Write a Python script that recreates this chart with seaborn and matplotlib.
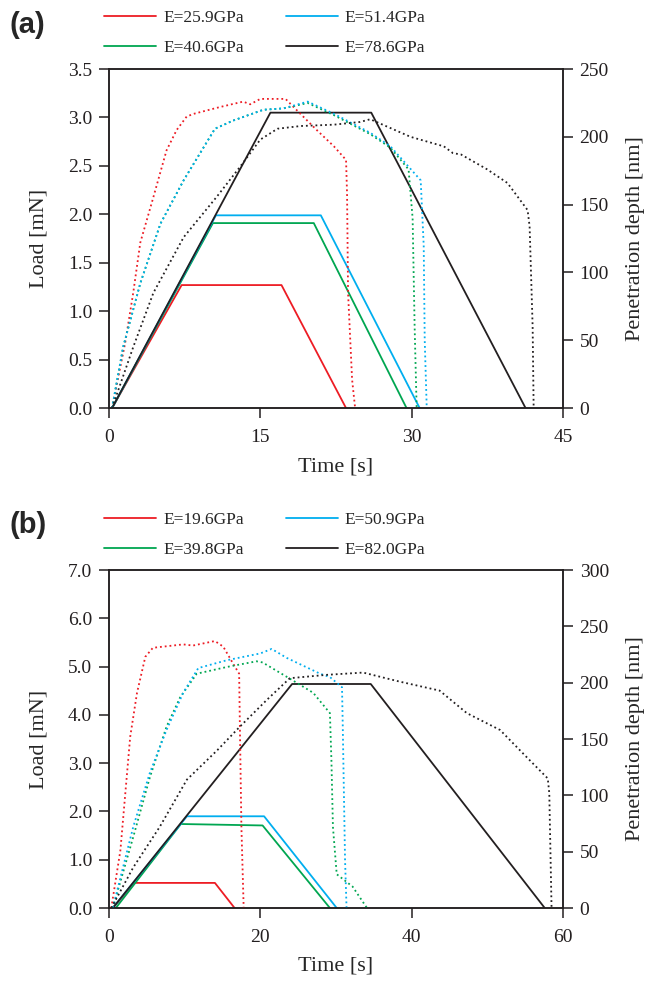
import seaborn as sns
import matplotlib.pyplot as plt
from matplotlib.lines import Line2D
from matplotlib.ticker import FormatStrFormatter

# colores de las series (rojo, verde, azul, negro)
colors = ['#ED1C24', '#00A651', '#00AEEF', '#231F20']

# ---------------- panel (a) ----------------
a_labels = ['E=25.9GPa', 'E=40.6GPa', 'E=51.4GPa', 'E=78.6GPa']
a_load_start = [0.3, 0.3, 0.3, 0.3]
a_ramp_end = [7.2, 10.3, 10.6, 16.0]
a_hold_end = [17.1, 20.3, 21.0, 26.0]
a_unload_end = [23.5, 29.5, 30.8, 41.3]
a_peak_load = [1.27, 1.91, 1.99, 3.05]
a_hold_load = [1.27, 1.91, 1.99, 3.05]

a_red_t = [0.3, 1.6, 2.4, 3.1, 4.3, 5.7, 6.7, 7.7, 8.4, 11.0, 13.3, 14.0, 15.0, 17.5, 18.3, 20.6, 22.3, 23.5, 23.6, 23.7, 24.1, 24.4]
a_red_d = [0, 48, 85, 122, 153, 190, 205, 215, 217, 222, 226, 224, 228, 228, 222, 205, 193, 183, 158, 85, 21, 0]
a_green_t = [0.3, 1.4, 3.1, 5.1, 7.4, 10.5, 12.3, 15.3, 17.3, 19.7, 22.3, 25.9, 27.9, 29.7, 30.1, 30.3, 30.5]
a_green_d = [0, 45, 92, 136, 168, 206, 212, 220, 221, 225, 216, 202, 192, 176, 140, 60, 0]
a_blue_t = [0.3, 1.4, 3.1, 5.1, 7.4, 10.5, 12.3, 15.3, 17.3, 19.7, 22.3, 25.9, 27.9, 30.9, 31.2, 31.3, 31.5]
a_blue_d = [0, 45, 92, 136, 168, 206, 212, 220, 221, 226, 217, 203, 193, 168, 120, 50, 0]
a_black_t = [0.3, 2.4, 4.4, 7.4, 10.7, 13.0, 15.0, 16.7, 19.0, 22.3, 24.9, 25.9, 29.9, 33.2, 34.1, 34.9, 37.5, 39.5, 41.5, 41.7, 42.0, 42.1]
a_black_d = [0, 45, 85, 126, 156, 178, 198, 206, 208, 209, 211, 213, 200, 193, 188, 187, 176, 166, 146, 134, 60, 0]

# ---------------- panel (b) ----------------
b_labels = ['E=19.6GPa', 'E=39.8GPa', 'E=50.9GPa', 'E=82.0GPa']
b_load_start = [0.5, 0.9, 0.5, 0.5]
b_ramp_end = [3.4, 9.5, 10.3, 24.2]
b_hold_end = [14.0, 20.3, 20.5, 34.6]
b_unload_end = [16.6, 29.2, 30.1, 57.6]
b_peak_load = [0.52, 1.74, 1.90, 4.64]
b_hold_load = [0.52, 1.71, 1.90, 4.64]

b_red_t = [0.3, 1.5, 2.8, 3.7, 4.8, 5.8, 9.8, 11.1, 14.0, 15.1, 16.4, 17.2, 17.3, 17.5, 17.8]
b_red_d = [0, 51, 152, 191, 223, 231, 234, 233, 237, 232, 217, 208, 161, 72, 0]
b_green_t = [0.5, 3.2, 5.4, 7.6, 9.4, 11.6, 15.6, 19.5, 20.3, 24.3, 27.0, 29.2, 29.4, 29.6, 30.1, 32.2, 34.1]
b_green_d = [0, 63, 116, 161, 187, 208, 214, 219, 218, 202, 191, 173, 131, 72, 30, 19, 0]
b_blue_t = [0.5, 3.2, 5.4, 7.6, 9.8, 11.8, 15.6, 20.0, 21.5, 23.5, 27.9, 29.2, 30.8, 30.9, 31.2, 31.4]
b_blue_d = [0, 72, 120, 158, 191, 213, 220, 226, 230, 222, 208, 205, 196, 161, 43, 0]
b_black_t = [0.3, 3.2, 6.7, 10.3, 14.3, 17.3, 20.9, 23.9, 28.8, 33.6, 38.4, 43.7, 47.3, 51.7, 55.2, 58.0, 58.2, 58.5]
b_black_d = [0, 36, 72, 114, 140, 161, 185, 204, 207, 209, 201, 193, 173, 158, 134, 115, 102, 0]


sns.set_style('ticks')
plt.rcParams['font.family'] = ['Liberation Serif', 'DejaVu Serif']
plt.rcParams['axes.linewidth'] = 1.1


def draw_panel(fig, rect, tag, labels, load_start, ramp_end, hold_end, unload_end,
               peak_load, hold_load, depth_t, depth_d, xmax, xticks, ymax, ystep,
               dmax, leg_y, tag_y):
  ax = fig.add_axes(rect)
  ax2 = ax.twinx()

  # carga (trapecio) en el eje izquierdo
  for i in range(4):
    t = [load_start[i], ramp_end[i], hold_end[i], unload_end[i]]
    p = [0, peak_load[i], hold_load[i], 0]
    sns.lineplot(x=t, y=p, ax=ax, color=colors[i], lw=1.3, sort=False, estimator=None)

  # profundidad en el eje derecho (punteado)
  for i in range(4):
    sns.lineplot(x=depth_t[i], y=depth_d[i], ax=ax2, color=colors[i], lw=1.3,
                 linestyle=':', sort=False, estimator=None)

  ax.set_xlim(0, xmax)
  ax.set_xticks(xticks)
  ax.set_ylim(0, ymax)
  yt = [k * ystep for k in range(int(round(ymax / ystep)) + 1)]
  ax.set_yticks(yt)
  ax.yaxis.set_major_formatter(FormatStrFormatter('%.1f'))
  ax2.set_ylim(0, dmax)
  ax2.set_yticks(range(0, dmax + 1, 50))

  for a in (ax, ax2):
    a.tick_params(axis='both', direction='out', length=7, width=1.1, labelsize=14,
                  colors='#231F20', pad=5)
    for s in a.spines.values():
      s.set_visible(True)
      s.set_color('#231F20')
  ax.tick_params(axis='x', pad=8)
  ax.tick_params(axis='y', right=False)
  ax.tick_params(axis='x', top=False)

  ax.set_xlabel('Time [s]', fontsize=16, labelpad=8)
  ax.set_ylabel('Load [mN]', fontsize=16, labelpad=14)
  ax2.set_ylabel('Penetration depth [nm]', fontsize=16, labelpad=12)

  handles = [Line2D([], [], color=c, lw=1.3) for c in colors]
  ax.legend(handles, labels, ncol=2, loc='center', bbox_to_anchor=(0.405, leg_y),
            bbox_transform=fig.transFigure, frameon=False, fontsize=12.5,
            handlelength=3.0, handletextpad=0.4, columnspacing=2.4, labelspacing=0.75)

  fig.text(0.015, tag_y, tag, fontsize=21, fontweight='bold', va='center',
           family=['Liberation Sans', 'DejaVu Sans'])


fig = plt.figure(figsize=(6.54, 9.81), dpi=100)

draw_panel(fig, [0.1667, 0.584, 0.694, 0.3456], '(a)', a_labels,
           a_load_start, a_ramp_end, a_hold_end, a_unload_end, a_peak_load, a_hold_load,
           [a_red_t, a_green_t, a_blue_t, a_black_t], [a_red_d, a_green_d, a_blue_d, a_black_d],
           45, [0, 15, 30, 45], 3.5, 0.5, 250, 1 - 33 / 981, 1 - 25 / 981)

draw_panel(fig, [0.1667, 0.0744, 0.694, 0.3445], '(b)', b_labels,
           b_load_start, b_ramp_end, b_hold_end, b_unload_end, b_peak_load, b_hold_load,
           [b_red_t, b_green_t, b_blue_t, b_black_t], [b_red_d, b_green_d, b_blue_d, b_black_d],
           60, [0, 20, 40, 60], 7.0, 1.0, 300, 1 - 535 / 981, 1 - 525 / 981)

fig.savefig('out.png', dpi=100)
